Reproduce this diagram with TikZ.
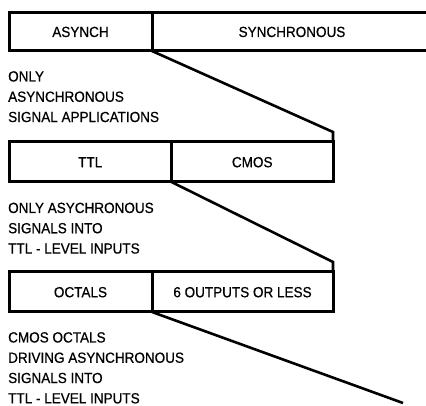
\documentclass[tikz,border=0pt]{standalone}
\usepackage{fontspec}
\setmainfont[FakeStretch=0.92,FakeBold=0.6]{Liberation Sans}
\begin{document}
\begin{tikzpicture}[x=1pt,y=-1pt,
  cell/.style={draw=black, line width=3pt, rectangle, inner sep=0pt, outer sep=0pt,
    minimum height=38.5pt, anchor=north west, text height=10.5pt, text depth=0pt,
    font=\fontsize{14.7}{20.3}\selectfont},
  para/.style={anchor=north west, inner sep=0pt, align=left,
    font=\fontsize{14.7}{20.3}\selectfont},
  link/.style={draw=black, line width=2.6pt, line join=miter, line cap=butt}]
\useasboundingbox (0,0) rectangle (426,406);
% row 1
\node[cell, minimum width=143pt] (asynch) at (9,12.5) {ASYNCH};
\node[cell, minimum width=280pt] (synch) at (152,12.5) {SYNCHRONOUS};
% row 2
\node[cell, minimum width=162.5pt, minimum height=40pt] (ttl) at (9,142) {TTL};
\node[cell, minimum width=161.5pt, minimum height=40pt] (cmos) at (171.5,142) {CMOS};
% row 3
\node[cell, minimum width=143pt, minimum height=40pt] (octals) at (9,272) {OCTALS};
\node[cell, minimum width=181pt, minimum height=40pt] (six) at (152,272) {6 OUTPUTS OR LESS};
% paragraphs
\node[para] (p1) at (8,71) {ONLY\\ASYNCHRONOUS\\SIGNAL APPLICATIONS};
\node[para] (p2) at (8,202.5) {ONLY ASYCHRONOUS\\SIGNALS INTO\\TTL - LEVEL INPUTS};
\node[para] (p3) at (8,332) {CMOS OCTALS\\DRIVING ASYNCHRONOUS\\SIGNALS INTO\\TTL - LEVEL INPUTS};
% connectors
\coordinate (k1) at (333,132);
\coordinate (k2) at (333,262);
\coordinate (k3) at (403,403);
\draw[link] (asynch.south east) -- (k1) -- (cmos.north east);
\draw[link] (ttl.south east) -- (k2) -- (six.north east);
\draw[link] (octals.south east) -- (k3);
\end{tikzpicture}
\end{document}
